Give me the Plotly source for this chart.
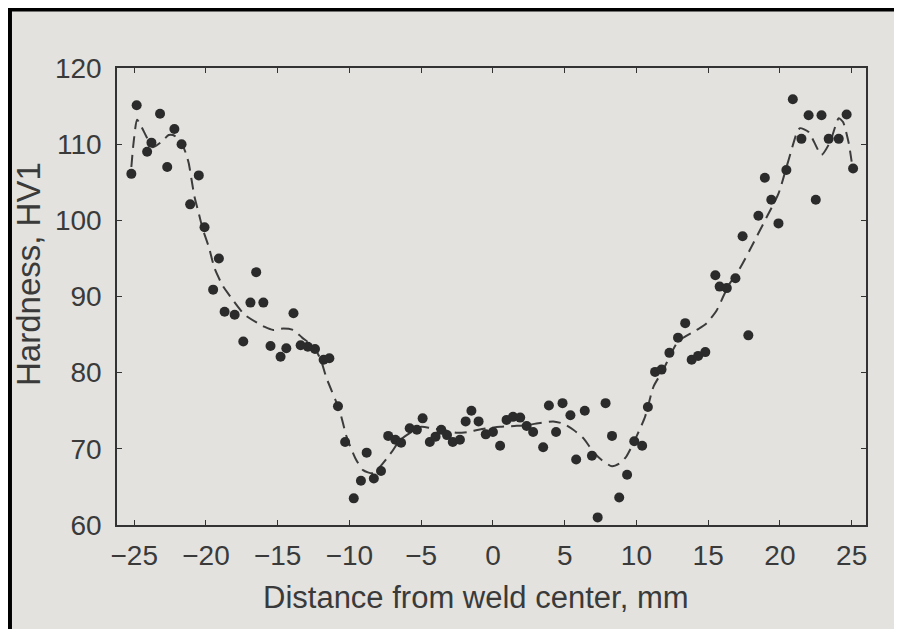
import plotly.graph_objects as go

# measured points
pt_x = [-25.2, -24.83, -24.1, -23.8, -23.2, -22.7, -22.2, -21.7, -21.1, -20.5, -20.1, -19.5, -19.1,
        -18.7, -18.0, -17.4, -16.9, -16.5, -16.0, -15.5, -14.8, -14.4, -13.9, -13.4, -12.9, -12.4,
        -11.8, -11.4, -10.8, -10.3, -9.7, -9.2, -8.8, -8.3, -7.8, -7.3, -6.8, -6.4, -5.8, -5.3,
        -4.9, -4.4, -4.0, -3.6, -3.2, -2.8, -2.3, -1.9, -1.5, -1.0, -0.5, 0.0, 0.5, 0.95, 1.4,
        1.9, 2.35, 2.8, 3.5, 3.9, 4.4, 4.85, 5.4, 5.8, 6.4, 6.9, 7.3, 7.85, 8.3, 8.8, 9.35, 9.85,
        10.4, 10.8, 11.3, 11.75, 12.3, 12.9, 13.4, 13.85, 14.3, 14.8, 15.5, 15.8, 16.3, 16.9,
        17.4, 17.8, 18.5, 18.95, 19.4, 19.9, 20.45, 20.9, 21.5, 22.0, 22.5, 22.9, 23.4, 24.1,
        24.65, 25.1]
pt_y = [106.1, 115.1, 109.0, 110.2, 114.0, 107.0, 112.0, 110.0, 102.1, 105.9, 99.1, 90.9, 95.0,
        88.0, 87.6, 84.1, 89.2, 93.2, 89.2, 83.5, 82.1, 83.2, 87.8, 83.6, 83.4, 83.1,
        81.7, 81.9, 75.6, 70.9, 63.5, 65.8, 69.5, 66.1, 67.1, 71.7, 71.2, 70.8, 72.7, 72.5,
        74.0, 70.9, 71.6, 72.5, 71.8, 70.9, 71.2, 73.6, 75.0, 73.6, 71.9, 72.2, 70.4, 73.8, 74.2,
        74.1, 73.0, 72.2, 70.2, 75.7, 72.2, 76.0, 74.4, 68.6, 75.0, 69.1, 61.0, 76.0, 71.7, 63.6, 66.6, 71.0,
        70.4, 75.5, 80.1, 80.4, 82.6, 84.6, 86.5, 81.7, 82.2, 82.7, 92.8, 91.3, 91.1, 92.4,
        97.9, 84.9, 100.6, 105.6, 102.7, 99.6, 106.6, 115.9, 110.7, 113.8, 102.7, 113.8, 110.7, 110.7,
        113.9, 106.8]

# fitted (dashed) curve
fit_x = [-25.2, -25.05, -24.8, -24.5, -24.1, -23.7, -23.1, -22.6, -22.3, -21.8, -21.4, -21.2, -21.0,
         -20.8, -20.5, -20.2, -19.8, -19.4, -18.8, -18.3, -17.3, -15.9, -15.3, -14.6, -13.9, -13.3,
         -12.5, -12.0, -11.6, -10.7, -10.2, -9.6, -9.05, -8.35, -7.05, -6.5, -5.0, -4.3, -3.5, -2.5,
         -1.8, -1.0, -0.4, 0.5, 1.5, 2.3, 3.3, 4.2, 4.9, 5.6, 6.3, 7.0, 7.6, 8.3, 8.85, 9.3, 10.0,
         10.6, 11.2, 11.85, 12.9, 14.2, 14.9, 15.6, 16.05, 16.5, 17.0, 17.9, 19.1, 19.9, 20.6, 21.2,
         21.4, 22.0, 22.9, 23.5, 24.1, 24.4, 24.8, 25.0]
fit_y = [107.0, 110.1, 113.2, 112.3, 110.8, 109.6, 110.3, 111.2, 111.2, 110.5, 108.8, 107.5, 105.3,
         103.1, 100.9, 98.7, 96.5, 93.7, 91.3, 90.0, 87.6, 86.0, 85.6, 85.8, 85.6, 84.6,
         83.4, 81.7, 79.3, 75.1, 71.6, 68.8, 67.2, 66.8, 69.6, 71.1, 72.9, 72.7, 72.5, 72.1,
         72.2, 72.5, 72.7, 72.9, 73.0, 73.1, 73.4, 73.6, 73.3, 72.5, 71.4, 69.6, 68.5, 67.7, 68.1, 69.0, 71.6,
         74.2, 78.2, 80.3, 84.1, 85.6, 86.5, 88.2, 90.0, 91.7, 93.0, 96.1, 100.5, 103.5, 107.9, 111.6,
         112.1, 111.6, 108.6, 110.3, 113.4, 112.9, 110.1, 107.7]

x_ticks = [-25, -20, -15, -10, -5, 0, 5, 10, 15, 20, 25]
x_tick_text = ["\u221225", "\u221220", "\u221215", "\u221210", "\u22125", "0", "5", "10", "15", "20", "25"]
y_ticks = [60, 70, 80, 90, 100, 110, 120]
x_title = "Distance from weld center, mm"
y_title = "Hardness, HV1"

BG = "#e3e2df"
INK = "#333333"
TXT = "#3a3a3a"
FONT = "Liberation Sans, Arial, sans-serif"

fig = go.Figure()
fig.add_trace(go.Scatter(x=fit_x, y=fit_y, mode="lines",
                         line=dict(color="#3c3c3c", width=2, dash="12px,7px", shape="spline", smoothing=0.6),
                         showlegend=False, hoverinfo="skip"))
fig.add_trace(go.Scatter(x=pt_x, y=pt_y, mode="markers",
                         marker=dict(color="#2b2b2b", size=10, symbol="circle"),
                         showlegend=False))

axis_common = dict(showgrid=False, zeroline=False, showline=True, linecolor=INK, linewidth=1.5, mirror="ticks",
                   ticks="inside", ticklen=5, tickcolor=INK, tickwidth=1.2,
                   tickfont=dict(family=FONT, size=28, color=TXT))

fig.update_xaxes(range=[-26.2, 26.0], tickvals=x_ticks, ticktext=x_tick_text, ticklabelstandoff=5,
                 **axis_common)
fig.update_yaxes(range=[60, 120], tickvals=y_ticks, ticklabelstandoff=8,
                 **axis_common)

L, T, PW, PH = 109, 60, 749, 457

# axis titles (placed as in the original, slightly off-centre)
fig.add_annotation(text=x_title, xref="paper", yref="paper", x=(476 - 117) / PW, y=(525 - 597) / PH,
                   xanchor="center", yanchor="middle", showarrow=False,
                   font=dict(family=FONT, size=31, color=TXT))
fig.add_annotation(text=y_title, xref="paper", yref="paper", x=(28 - 117) / PW, y=(525 - 274) / PH,
                   xanchor="center", yanchor="middle", textangle=-90, showarrow=False,
                   font=dict(family=FONT, size=33, color=TXT))

# photo frame border (top and left edges of the photograph)
fig.add_shape(type="path", xref="paper", yref="paper",
              path="M %.4f -0.3 L %.4f %.4f L 1.1 %.4f" % ((2 - L) / PW, (2 - L) / PW, (T + PH - 1.5) / PH, (T + PH - 1.5) / PH),
              line=dict(color="black", width=4))

fig.update_layout(width=886, height=621, margin=dict(l=L, r=886 - L - PW, t=T, b=621 - T - PH),
                  paper_bgcolor=BG, plot_bgcolor=BG)

fig.write_html("out.html")
